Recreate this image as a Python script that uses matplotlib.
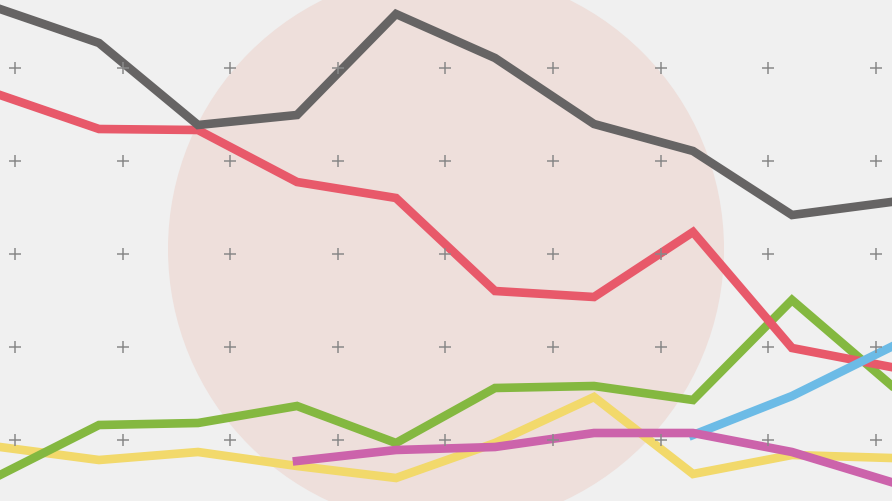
import matplotlib.pyplot as plt
import numpy as np
from matplotlib.patches import Circle

# y values (pixel rows, top = 0)
gray = [10, 44, 126, 116, 15, 59, 125, 152, 216, 203]
red = [96, 130, 131, 183, 199, 292, 298, 233, 349, 368]
green = [476, 426, 424, 407, 444, 389, 387, 401, 301, 386]
yellow = [448, 461, 453, 467, 479, 444, 398, 475, 456, 459]
magenta = [462, 451, 448, 434, 434, 453, 483]   # starts at point 3
blue = [436, 397, 348]                           # starts at point 7

step = 99
x_all = np.arange(10) * step

fig = plt.figure(figsize=(8.92, 5.02), dpi=100)
fig.patch.set_facecolor('#f0f0f0')
ax = fig.add_axes([0, 0, 1, 1])
ax.set_facecolor('#f0f0f0')
ax.set_xlim(0, 892)
ax.set_ylim(502, 0)
ax.axis('off')

ax.add_patch(Circle((446, 250), 278, color='#eedfdb', zorder=1, lw=0))

lw = 6.2
ax.plot(x_all, yellow, color='#f2d96b', lw=lw, zorder=2, solid_joinstyle='miter')
ax.plot(x_all, green, color='#84b840', lw=lw, zorder=3, solid_joinstyle='miter')
ax.plot(x_all, red, color='#e8596a', lw=lw, zorder=4, solid_joinstyle='miter')
ax.plot(x_all, gray, color='#666464', lw=lw, zorder=5, solid_joinstyle='miter')
ax.plot(x_all[7:], blue, color='#6cbbe6', lw=lw, zorder=6, solid_joinstyle='miter')
ax.plot(x_all[3:], magenta, color='#cc63ab', lw=lw, zorder=7, solid_joinstyle='miter')

# plus grid
px = 15 + np.arange(9) * 107.6
py = 69 + np.arange(5) * 93
gx, gy = np.meshgrid(px, py)
ax.plot(gx.ravel(), gy.ravel(), '+', color='#8a8a8a', ms=9, mew=1.1, zorder=10)

fig.savefig('out.png', dpi=100, facecolor=fig.get_facecolor())
